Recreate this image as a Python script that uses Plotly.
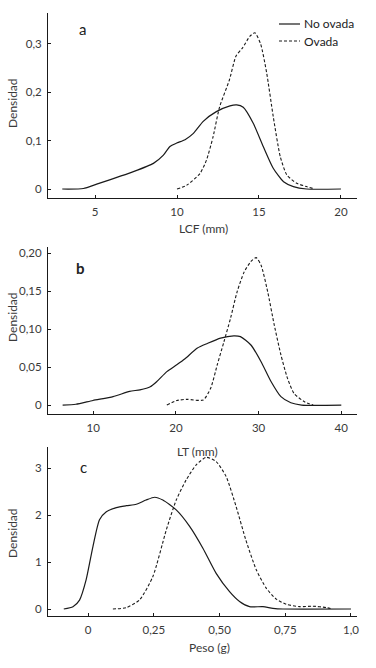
import plotly.graph_objects as go

W, H = 376, 668

# ---- Panel a: LCF (mm)
lcf_no_x = [3.0, 4.29, 5.1, 7.34, 8.56, 9.17, 9.57, 9.98, 10.49, 11.0, 11.6, 12.4, 13.23, 13.64, 14.04, 14.65, 15.26, 15.87, 16.5, 17.1, 17.9, 20.0]
lcf_no_y = [0, 0.001, 0.01, 0.036, 0.053, 0.07, 0.088, 0.095, 0.102, 0.115, 0.14, 0.16, 0.172, 0.174, 0.169, 0.136, 0.088, 0.043, 0.015, 0.005, 0.0, 0.0]
lcf_ov_x = [10.0, 10.6, 11.4, 11.8, 12.2, 12.6, 13.2, 13.6, 14.0, 14.45, 14.75, 15.1, 15.47, 15.87, 16.3, 16.7, 17.3, 17.9, 18.3]
lcf_ov_y = [0, 0.008, 0.032, 0.06, 0.108, 0.17, 0.226, 0.275, 0.292, 0.316, 0.323, 0.30, 0.24, 0.15, 0.067, 0.029, 0.012, 0.005, 0.001]

# ---- Panel b: LT (mm)
lt_no_x = [6.3, 7.9, 9.96, 12.4, 14.4, 15.65, 16.9, 17.7, 18.9, 20.1, 21.1, 22.6, 23.8, 25.4, 27.0, 27.8, 29.07, 30.3, 31.5, 32.7, 33.9, 35.2, 40.0]
lt_no_y = [0, 0.001, 0.006, 0.011, 0.018, 0.020, 0.024, 0.031, 0.044, 0.053, 0.061, 0.075, 0.081, 0.088, 0.091, 0.090, 0.079, 0.057, 0.031, 0.011, 0.003, 0.0, 0.0]
lt_ov_x = [18.9, 20.1, 21.3, 23.3, 24.2, 25.0, 25.8, 26.6, 27.4, 28.25, 29.07, 29.7, 30.3, 31.1, 31.9, 32.7, 33.5, 34.3, 35.6, 36.6]
lt_ov_y = [0, 0.006, 0.0075, 0.0066, 0.022, 0.053, 0.083, 0.114, 0.149, 0.175, 0.189, 0.194, 0.184, 0.149, 0.105, 0.066, 0.035, 0.015, 0.004, 0.0]

# ---- Panel c: Peso (g)
peso_no_x = [-0.093, -0.058, -0.033, -0.008, 0.018, 0.043, 0.069, 0.107, 0.145, 0.183, 0.22, 0.253, 0.284, 0.335, 0.386, 0.437, 0.487, 0.538, 0.576, 0.614, 0.665, 0.703, 0.741, 1.0]
peso_no_y = [0, 0.05, 0.19, 0.62, 1.33, 1.9, 2.07, 2.16, 2.2, 2.23, 2.32, 2.38, 2.32, 2.11, 1.76, 1.29, 0.76, 0.37, 0.16, 0.05, 0.05, 0.015, 0.0, 0.0]
peso_ov_x = [0.094, 0.145, 0.195, 0.246, 0.297, 0.335, 0.373, 0.411, 0.449, 0.487, 0.525, 0.563, 0.6, 0.64, 0.678, 0.716, 0.754, 0.805, 0.855, 0.906, 0.93]
peso_ov_y = [0, 0.03, 0.19, 0.69, 1.68, 2.32, 2.75, 3.07, 3.23, 3.14, 2.82, 2.18, 1.47, 0.83, 0.44, 0.21, 0.1, 0.05, 0.06, 0.03, 0.0]

series_names = ["No ovada", "Ovada"]
panel_letters = ["a", "b", "c"]
x_titles = ["LCF (mm)", "LT (mm)", "Peso (g)"]
y_title = "Densidad"

a_xticks = [5, 10, 15, 20]
a_xtext = ["5", "10", "15", "20"]
a_yticks = [0, 0.1, 0.2, 0.3]
a_ytext = ["0", "0,1", "0,2", "0,3"]
b_xticks = [10, 20, 30, 40]
b_xtext = ["10", "20", "30", "40"]
b_yticks = [0, 0.05, 0.10, 0.15, 0.20]
b_ytext = ["0", "0,05", "0,10", "0,15", "0,20"]
c_xticks = [0, 0.25, 0.5, 0.75, 1.0]
c_xtext = ["0", "0,25", "0,50", "0,75", "1,0"]
c_yticks = [0, 1, 2, 3]
c_ytext = ["0", "1", "2", "3"]

FONT = "Lato"
TXT = "#3a3a3a"
LINE = "#1a1a1a"

def px_x(p):
    return p / W

def px_y(p):
    return 1 - p / H

fig = go.Figure()

panels = [
    (lcf_no_x, lcf_no_y, lcf_ov_x, lcf_ov_y, "x", "y"),
    (lt_no_x, lt_no_y, lt_ov_x, lt_ov_y, "x2", "y2"),
    (peso_no_x, peso_no_y, peso_ov_x, peso_ov_y, "x3", "y3"),
]
for nx, ny, ox, oy, xa, ya in panels:
    fig.add_trace(go.Scatter(x=nx, y=ny, mode="lines", name=series_names[0],
                             line=dict(color=LINE, width=1.2, shape="spline", smoothing=0.6),
                             xaxis=xa, yaxis=ya, showlegend=False))
    fig.add_trace(go.Scatter(x=ox, y=oy, mode="lines", name=series_names[1],
                             line=dict(color=LINE, width=1.1, dash="3px,2px", shape="spline", smoothing=0.6),
                             xaxis=xa, yaxis=ya, showlegend=False))

xdom = [px_x(48), px_x(357)]
doms = [(13, 198), (247, 414), (447, 616)]
xranges = [[2.13, 20.98], [4.53, 41.9], [-0.153, 1.023]]
yranges = [[-0.0186, 0.364], [-0.0118, 0.208], [-0.149, 3.45]]
xt = [(a_xticks, a_xtext), (b_xticks, b_xtext), (c_xticks, c_xtext)]
yt = [(a_yticks, a_ytext), (b_yticks, b_ytext), (c_yticks, c_ytext)]

common = dict(showline=True, linecolor=LINE, linewidth=1, ticks="inside", ticklen=3,
              tickcolor=LINE, tickwidth=1, showgrid=False, zeroline=False, automargin=False,
              tickfont=dict(family=FONT, size=11.5, color=TXT))

layout = {}
for i in range(3):
    sx = "" if i == 0 else str(i + 1)
    top, bot = doms[i]
    layout["xaxis" + sx] = dict(domain=xdom, range=xranges[i], anchor="y" + sx,
                                tickvals=xt[i][0], ticktext=xt[i][1], ticklabelstandoff=3, **common)
    layout["yaxis" + sx] = dict(domain=[px_y(bot), px_y(top)], range=yranges[i], anchor="x" + sx,
                                tickvals=yt[i][0], ticktext=yt[i][1], ticklabelstandoff=3, **common)

fig.update_layout(template="none", width=W, height=H, margin=dict(l=0, r=0, t=0, b=0, pad=0),
                  paper_bgcolor="white", plot_bgcolor="white", showlegend=False,
                  font=dict(family=FONT, size=12, color=TXT), **layout)

ann = []
# Axis titles
for (cx, cy, txt) in [(203.5, 228, x_titles[0]), (197.5, 451, x_titles[1]), (210, 647, x_titles[2])]:
    ann.append(dict(x=px_x(cx), y=px_y(cy), xref="paper", yref="paper", text=txt, showarrow=False,
                    xanchor="center", yanchor="middle", font=dict(family=FONT, size=12, color=TXT)))
for cy in [103, 317, 533]:
    ann.append(dict(x=px_x(12), y=px_y(cy), xref="paper", yref="paper", text=y_title, showarrow=False,
                    textangle=-90, xanchor="center", yanchor="middle", font=dict(family=FONT, size=12, color=TXT)))
# Panel letters
for (cx, cy, t) in [(82, 29, "a"), (80, 268, "<b>b</b>"), (83, 467, "c")]:
    ann.append(dict(x=px_x(cx), y=px_y(cy), xref="paper", yref="paper", text=t, showarrow=False,
                    xanchor="center", yanchor="middle", font=dict(family=FONT, size=15, color="#222")))
# Legend text
for (cy, t) in [(24, series_names[0]), (41, series_names[1])]:
    ann.append(dict(x=px_x(302), y=px_y(cy), xref="paper", yref="paper", text=t, showarrow=False,
                    xanchor="left", yanchor="middle", font=dict(family=FONT, size=12, color="#222")))
fig.update_layout(annotations=ann)

# Legend line samples
fig.add_shape(type="line", xref="paper", yref="paper", x0=px_x(279), x1=px_x(300), y0=px_y(24), y1=px_y(24),
              line=dict(color=LINE, width=1.2))
fig.add_shape(type="line", xref="paper", yref="paper", x0=px_x(279), x1=px_x(300), y0=px_y(41), y1=px_y(41),
              line=dict(color=LINE, width=1.1, dash="3px,2px"))

fig.write_html("out.html", config={"displayModeBar": False},
               post_script="document.body.style.margin='0';document.body.style.padding='0';document.body.style.overflow='hidden';")
